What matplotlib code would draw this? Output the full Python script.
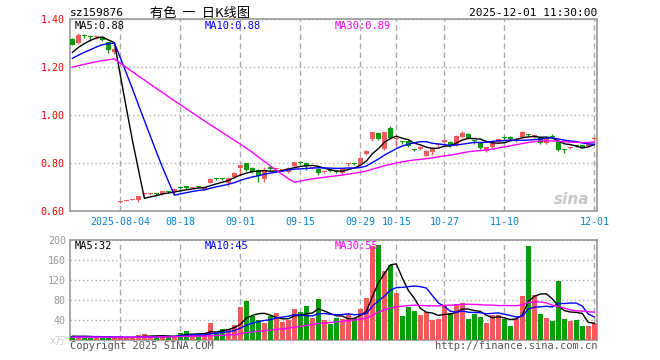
import matplotlib
matplotlib.use('Agg')
import matplotlib.pyplot as plt
import numpy as np
import pandas as pd

plt.rcParams['font.family'] = ['DejaVu Sans Mono', 'Noto Sans CJK SC']

# 日K数据 2025-07-23 .. 2025-12-01 (88根)
opens = [1.317, 1.300, 1.331, 1.327, 1.323, 1.324, 1.304, 1.264,
         0.636, 0.642, 0.646, 0.645, 0.670, 0.670, 0.671, 0.670, 0.681, 0.678, 0.700, 0.704,
         0.697, 0.701, 0.690, 0.718, 0.733, 0.733, 0.715, 0.743, 0.779, 0.798,
         0.780, 0.771, 0.733, 0.782, 0.773, 0.770, 0.764, 0.789, 0.800, 0.801,
         0.779, 0.775, 0.763, 0.768, 0.765, 0.760, 0.794, 0.798, 0.792, 0.836,
         0.899, 0.926, 0.857, 0.944, 0.898, 0.887, 0.893, 0.855, 0.858, 0.830,
         0.847, 0.873, 0.886, 0.889, 0.875, 0.907, 0.921, 0.894, 0.885, 0.850,
         0.868, 0.889, 0.904, 0.910, 0.895, 0.907, 0.918, 0.912, 0.907, 0.882,
         0.911, 0.886, 0.855, 0.864, 0.872, 0.875, 0.871, 0.899]
closes = [1.292, 1.333, 1.330, 1.326, 1.324, 1.312, 1.271, 1.274,
          0.640, 0.643, 0.647, 0.662, 0.671, 0.671, 0.670, 0.682, 0.680, 0.692, 0.695, 0.694,
          0.698, 0.700, 0.700, 0.735, 0.732, 0.732, 0.736, 0.760, 0.790, 0.771,
          0.764, 0.746, 0.771, 0.776, 0.774, 0.771, 0.780, 0.803, 0.799, 0.788,
          0.780, 0.760, 0.764, 0.767, 0.764, 0.774, 0.795, 0.797, 0.822, 0.851,
          0.929, 0.899, 0.928, 0.903, 0.899, 0.886, 0.871, 0.854, 0.868, 0.851,
          0.862, 0.874, 0.896, 0.872, 0.913, 0.924, 0.906, 0.893, 0.862, 0.865,
          0.893, 0.900, 0.903, 0.899, 0.896, 0.928, 0.917, 0.913, 0.882, 0.900,
          0.910, 0.854, 0.854, 0.865, 0.871, 0.868, 0.879, 0.900]
highs = [1.320, 1.342, 1.336, 1.335, 1.328, 1.326, 1.306, 1.278,
         0.641, 0.645, 0.649, 0.663, 0.674, 0.673, 0.673, 0.684, 0.683, 0.694, 0.706, 0.705,
         0.701, 0.705, 0.702, 0.737, 0.737, 0.736, 0.738, 0.762, 0.792, 0.800,
         0.785, 0.775, 0.784, 0.788, 0.780, 0.776, 0.784, 0.806, 0.804, 0.805,
         0.784, 0.778, 0.769, 0.773, 0.772, 0.776, 0.800, 0.803, 0.824, 0.853,
         0.931, 0.929, 0.930, 0.954, 0.905, 0.892, 0.896, 0.860, 0.870, 0.853,
         0.864, 0.880, 0.898, 0.893, 0.915, 0.933, 0.923, 0.897, 0.887, 0.867,
         0.895, 0.902, 0.912, 0.912, 0.903, 0.933, 0.922, 0.918, 0.910, 0.902,
         0.919, 0.888, 0.858, 0.868, 0.874, 0.877, 0.881, 0.909]
lows = [1.290, 1.297, 1.322, 1.310, 1.318, 1.310, 1.260, 1.255,
        0.634, 0.641, 0.645, 0.639, 0.668, 0.668, 0.668, 0.668, 0.677, 0.670, 0.690, 0.692,
        0.694, 0.697, 0.688, 0.716, 0.729, 0.729, 0.705, 0.738, 0.747, 0.765,
        0.760, 0.722, 0.722, 0.772, 0.768, 0.765, 0.760, 0.785, 0.795, 0.772,
        0.774, 0.752, 0.758, 0.762, 0.760, 0.755, 0.789, 0.790, 0.789, 0.834,
        0.890, 0.897, 0.855, 0.900, 0.872, 0.880, 0.865, 0.848, 0.856, 0.828,
        0.835, 0.868, 0.884, 0.868, 0.870, 0.905, 0.904, 0.880, 0.860, 0.845,
        0.862, 0.887, 0.896, 0.897, 0.886, 0.905, 0.912, 0.905, 0.878, 0.879,
        0.903, 0.852, 0.842, 0.858, 0.868, 0.866, 0.869, 0.890]
volumes = [8, 5, 8, 5, 5, 5, 5, 5,
           5, 5, 5, 10, 12, 7, 7, 7, 7, 8, 15, 18,
           10, 10, 10, 34, 15, 22, 23, 30, 66, 78,
           49, 40, 34, 48, 54, 36, 40, 62, 56, 68,
           44, 82, 40, 32, 44, 42, 53, 45, 62, 84,
           189, 190, 138, 150, 94, 48, 66, 58, 50, 56,
           40, 42, 68, 54, 72, 74, 42, 52, 46, 34,
           50, 50, 42, 28, 42, 88, 188, 90, 52, 44,
           38, 118, 42, 38, 40, 28, 28, 34]

# 窗口之前的收盘价/成交量（用于均线起点）
hist_close = [1.15, 1.16, 1.17, 1.16, 1.17, 1.17, 1.17,
              1.17, 1.18, 1.18, 1.19, 1.18, 1.19, 1.20, 1.19, 1.20, 1.20, 1.19, 1.20, 1.21,
              1.20, 1.21, 1.22, 1.21, 1.215,
              1.23, 1.25, 1.26, 1.273]
hist_vol = [5, 4, 5, 6, 5, 4, 5, 5, 6, 5, 4, 5, 5, 6, 5, 5, 4, 5, 6, 5,
            5, 6, 5, 5, 7, 6, 8, 7, 9]

date_idx = [8, 18, 28, 38, 48, 54, 62, 72, 87]
date_labels = ['2025-08-04', '08-18', '09-01', '09-15', '09-29', '10-15', '10-27', '11-10', '12-01']
price_ma_text = ['MA5:0.88', 'MA10:0.88', 'MA30:0.89']
vol_ma_text = ['MA5:32', 'MA10:45', 'MA30:55']

RED = '#f55a5a'
GREEN = '#00a000'
GRID = '#aaaaaa'
ma_colors = ['black', '#0000ff', '#ff00ff']

n = len(closes)
x = np.arange(n)
o = np.array(opens); c = np.array(closes)
up = c >= o
cols = [RED if u else GREEN for u in up]

cs = pd.Series(hist_close + closes)
vs = pd.Series(hist_vol + volumes)
price_ma = [cs.rolling(w).mean().values[-n:] for w in (5, 10, 30)]
vol_ma = [vs.rolling(w).mean().values[-n:] for w in (5, 10, 30)]

W, H = 660, 360
fig = plt.figure(figsize=(6.6, 3.6), dpi=100)
ax = fig.add_axes([70 / W, 1 - 211 / H, 527 / W, 192 / H])
axv = fig.add_axes([70 / W, 1 - 340 / H, 527 / W, 100 / H])

xlim = (-0.4, 87.45)

# K线
ax.vlines(x, lows, highs, colors=cols, lw=1, zorder=3)
body = np.maximum(np.abs(c - o), 0.0045)
ax.bar(x, body, bottom=np.minimum(o, c), width=0.82, color=cols, lw=0, zorder=4)
for ma, col in zip(price_ma, ma_colors):
    ax.plot(x, ma, color=col, lw=1, zorder=5)

ax.set_xlim(*xlim)
ax.set_ylim(0.60, 1.40)
ax.set_yticks([0.60, 0.80, 1.00, 1.20, 1.40])
ax.set_yticklabels(['0.60', '0.80', '1.00', '1.20', '1.40'], color='red', fontsize=7.2)
ax.set_xticks(date_idx)
ax.set_xticklabels(date_labels, color='#0a82d0', fontsize=7.2)
ax.tick_params(length=0, pad=4)
ax.xaxis.grid(True, color=GRID, ls=(0, (4, 2.5)), lw=1)
ax.yaxis.grid(True, color=GRID, ls=(0, (1, 2)), lw=1)
ax.set_axisbelow(True)

# 成交量
axv.bar(x, volumes, width=0.82, color=cols, lw=0, zorder=3)
for ma, col in zip(vol_ma, ma_colors):
    axv.plot(x, ma, color=col, lw=1, zorder=5)
axv.set_xlim(*xlim)
axv.set_ylim(0, 200)
axv.set_yticks([0, 40, 80, 120, 160, 200])
axv.set_yticklabels(['x万', '40', '80', '120', '160', '200'], color='#999999', fontsize=7.2)
axv.get_yticklabels()[0].set_color('#cccccc')
axv.set_xticks(date_idx)
axv.set_xticklabels([])
axv.tick_params(length=0, pad=3)
axv.xaxis.grid(True, color=GRID, ls=(0, (4, 2.5)), lw=1)
axv.yaxis.grid(True, color=GRID, ls=(0, (1, 2)), lw=1)
axv.set_axisbelow(True)

for a in (ax, axv):
    for s in a.spines.values():
        s.set_color('#999999')
        s.set_linewidth(1.2)

def ft(px, py, s, **kw):
    fig.text(px / W, 1 - py / H, s, va='center', **kw)

ft(70, 13, 'sz159876', fontsize=8, color='black')
ft(200, 13, '有色  一  日K线图', fontsize=9.5, color='black', ha='center',
   family=['Noto Sans CJK SC', 'DejaVu Sans'])
ft(597, 13, '2025-12-01 11:30:00', fontsize=8, color='black', ha='right')
for px, s, col in zip([75, 205, 335], price_ma_text, ma_colors):
    ft(px, 26, s, fontsize=7.5, color=col)
for px, s, col in zip([75, 205, 335], vol_ma_text, ma_colors):
    ft(px, 246, s, fontsize=7.5, color=col)
ft(70, 346, 'Copyright 2025 SINA.COM', fontsize=7.5, color='#555555')
ft(597, 346, 'http://finance.sina.com.cn', fontsize=7.5, color='#555555', ha='right')
ft(572, 199, 'sina', fontsize=11, color='#c8c8c8', ha='center', fontweight='bold',
   style='italic', family='DejaVu Sans')

fig.savefig('out.png', dpi=100)
